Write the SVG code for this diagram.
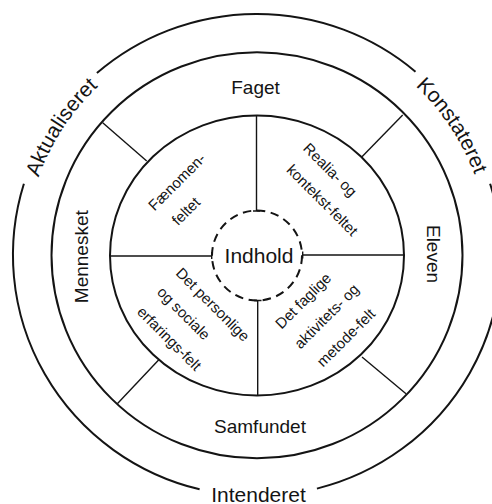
<svg xmlns="http://www.w3.org/2000/svg" width="492" height="504" viewBox="0 0 492 504">
<style>
.ring{fill:none;stroke:#141414;stroke-width:2}
.dash{fill:none;stroke:#141414;stroke-width:2;stroke-dasharray:8.5 5.6}
.rad{fill:none;stroke:#141414;stroke-width:1.4}
.t{font-family:"Liberation Sans",Arial,Helvetica,sans-serif;fill:#141414;text-anchor:middle}
.outer{font-size:21px}
.ringlbl{font-size:19px}
.core{font-size:21px}
.sec{font-size:15px}
</style>
<defs>
<path id="arcText" d="M25,255.5 A232,232 0 0 1 489,255.5"/>
</defs>
<rect width="492" height="504" fill="#ffffff"/>

<g id="rings">
<path class="ring" d="M96.9,73.1 A244,241 0 0 1 415.5,71.7"/>
<path class="ring" d="M490.1,183.7 A244,241 0 0 1 316.9,488.6"/>
<path class="ring" d="M199.6,489.3 A244,241 0 0 1 23.9,183.7"/>
<ellipse class="ring" cx="257" cy="255.3" rx="205.5" ry="203"/>
<ellipse class="ring" cx="257" cy="255.5" rx="147" ry="140"/>
</g>

<g id="connectors">
<path class="rad" d="M102.7,122.7 L146.7,161"/>
<path class="rad" d="M402.7,115 L362,156.7"/>
<path class="rad" d="M159.3,359.3 L117.3,403.7"/>
<path class="rad" d="M362,357 L406,393.7"/>
<path class="rad" d="M256.5,115.5 V211 M253,211 H260"/>
<path class="rad" d="M110,256 H211.7 M211.7,252 V259"/>
<path class="rad" d="M302.7,255 H404.7 M302.7,251.5 V258.5"/>
<path class="rad" d="M257.7,300.5 V395.5 M254,300.5 H261.5"/>
</g>

<g id="aktualiseret">
<text class="t outer"><textPath href="#arcText" startOffset="18.45%">Aktualiseret</textPath></text>
</g>
<g id="konstateret">
<text class="t outer"><textPath href="#arcText" startOffset="81.3%">Konstateret</textPath></text>
</g>
<g id="intenderet">
<text class="t outer" x="258.5" y="501.5">Intenderet</text>
</g>

<g id="faget">
<text class="t ringlbl" x="255.5" y="94">Faget</text>
</g>
<g id="samfundet">
<text class="t ringlbl" x="260" y="432.5">Samfundet</text>
</g>
<g id="mennesket">
<text class="t ringlbl" transform="translate(88.3,256.7) rotate(-90)">Mennesket</text>
</g>
<g id="eleven">
<text class="t ringlbl" transform="translate(427,254) rotate(90)">Eleven</text>
</g>

<g id="indhold">
<circle class="dash" cx="257" cy="255.5" r="45"/>
<text class="t core" x="259" y="263.3">Indhold</text>
</g>

<g id="faenomenfeltet">
<text class="t sec" transform="translate(176.7,181.7) rotate(-45)" dy="5.4">Fænomen-</text>
<text class="t sec" transform="translate(185.8,211) rotate(-45)" dy="5.4">feltet</text>
</g>
<g id="realiafeltet">
<text class="t sec" transform="translate(329.2,170.8) rotate(45)" dy="3.8">Realia- og</text>
<text class="t sec" transform="translate(322.5,200) rotate(45)" dy="5.4">kontekst-feltet</text>
</g>
<g id="erfaringsfelt">
<text class="t sec" transform="translate(211.8,305.5) rotate(45)" dy="3.8">Det personlige</text>
<text class="t sec" transform="translate(182.7,314.3) rotate(45)" dy="3.8">og sociale</text>
<text class="t sec" transform="translate(168.3,339.5) rotate(45)" dy="3.8">erfarings-felt</text>
</g>
<g id="metodefelt">
<text class="t sec" transform="translate(304.2,301.7) rotate(-45)" dy="3.8">Det faglige</text>
<text class="t sec" transform="translate(327.5,317.2) rotate(-45)" dy="3.8">aktivitets- og</text>
<text class="t sec" transform="translate(345.8,337.5) rotate(-45)" dy="5.4">metode-felt</text>
</g>
</svg>
